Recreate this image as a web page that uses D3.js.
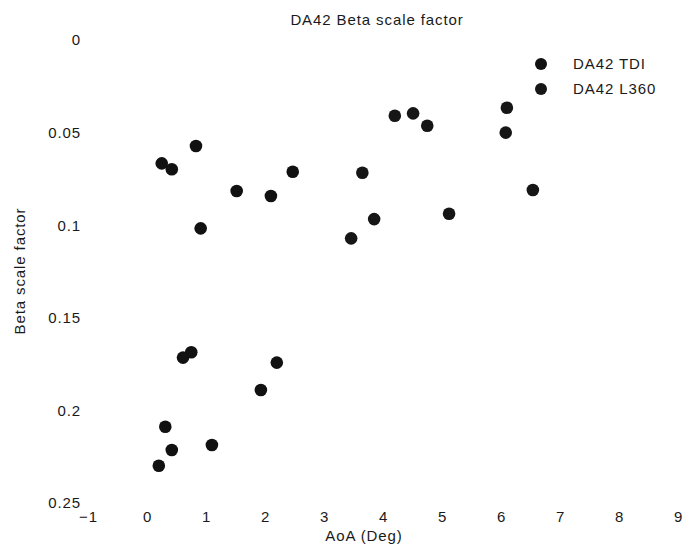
<!DOCTYPE html>
<html>
<head>
<meta charset="utf-8">
<script src="https://cdn.jsdelivr.net/npm/d3@7"></script>
<style>
  body { margin: 0; background: #fff; }
  svg { font-family: "Liberation Sans", Arial, sans-serif; }
  .lbl { font-size: 15px; letter-spacing: 0.9px; fill: #1a1a1a; }
</style>
</head>
<body>
<svg id="chart" width="684" height="557"></svg>
<script>
// AoA (deg) and Beta scale factor
const tdiAoA  = [0.83, 0.25, 0.42, 2.47, 1.52, 2.10, 0.91, 0.75, 0.61, 2.20, 1.93, 0.31, 0.42, 1.10, 0.20]
const tdiBeta = [0.0572, 0.0666, 0.0698, 0.0711, 0.0815, 0.0842, 0.1017, 0.1686, 0.1715, 0.1742, 0.189, 0.2088, 0.2214, 0.2187, 0.2299]

const l360AoA  = [6.10, 4.20, 4.51, 4.75, 6.08, 3.65, 6.54, 3.85, 5.12, 3.46]
const l360Beta = [0.0366, 0.0409, 0.0396, 0.0463, 0.050, 0.0717, 0.081, 0.0967, 0.0938, 0.1071]

const seriesNames = ['DA42 TDI', 'DA42 L360']
const xTicks = [-1, 0, 1, 2, 3, 4, 5, 6, 7, 8, 9]
const yTicks = [0, 0.05, 0.1, 0.15, 0.2, 0.25]

const series = [
  { name: seriesNames[0], color: '#111', pts: tdiAoA.map((x, i) => [x, tdiBeta[i]]) },
  { name: seriesNames[1], color: '#161616', pts: l360AoA.map((x, i) => [x, l360Beta[i]]) },
]

const svg = d3.select('#chart')

const x = d3.scaleLinear().domain([-1, 9]).range([88, 678])
const y = d3.scaleLinear().domain([0, 0.25]).range([40, 503])

// title
svg.append('text')
  .attr('class', 'lbl')
  .attr('x', 377).attr('y', 25)
  .attr('text-anchor', 'middle')
  .text('DA42 Beta scale factor')

// axes, no lines, labels only
const xAxis = svg.append('g')
  .attr('transform', 'translate(0,508)')
  .call(d3.axisBottom(x).tickValues(xTicks).tickSize(0).tickFormat(d3.format('d')))
xAxis.select('.domain').remove()
xAxis.selectAll('text').attr('class', 'lbl').attr('font-size', null).attr('fill', null).attr('font-family', null)

const yAxis = svg.append('g')
  .attr('transform', 'translate(81,0)')
  .call(d3.axisLeft(y).tickValues(yTicks).tickSize(0).tickPadding(0).tickFormat((d) => d === 0 ? '0' : d3.format('.2~f')(d)))
yAxis.select('.domain').remove()
yAxis.selectAll('text').attr('class', 'lbl').attr('fill', null)

svg.append('text')
  .attr('class', 'lbl')
  .attr('x', 364).attr('y', 541)
  .attr('text-anchor', 'middle')
  .text('AoA (Deg)')

svg.append('text')
  .attr('class', 'lbl')
  .attr('transform', 'translate(25,271) rotate(-90)')
  .attr('text-anchor', 'middle')
  .text('Beta scale factor')

// points
svg.append('g')
  .selectAll('g')
  .data(series)
  .join('g')
  .attr('fill', (d) => d.color)
  .selectAll('circle')
  .data((d) => d.pts)
  .join('circle')
  .attr('cx', (d) => x(d[0]))
  .attr('cy', (d) => y(d[1]))
  .attr('r', 6.3)

// legend
const legend = svg.append('g')
  .selectAll('g')
  .data(series)
  .join('g')
  .attr('transform', (d, i) => `translate(541,${64 + i * 25})`)
legend.append('circle').attr('r', 6).attr('fill', (d) => d.color)
legend.append('text')
  .attr('class', 'lbl')
  .attr('x', 32).attr('dy', '0.35em')
  .text((d) => d.name)
</script>
</body>
</html>
